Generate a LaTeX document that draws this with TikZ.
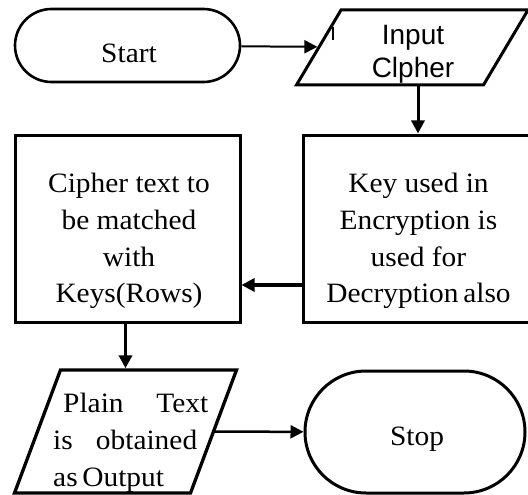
\documentclass[tikz,border=0pt]{standalone}
\usepackage{fontspec}
\setmainfont{Liberation Serif}[FakeStretch=1.05]
\newfontfamily\inputfont{Liberation Sans}
\usetikzlibrary{shapes.geometric,shapes.misc,arrows.meta}
\begin{document}
\begin{tikzpicture}[x=1pt,y=-1pt,
  term/.style={rounded rectangle, draw, line width=2.6pt, inner sep=0pt},
  proc/.style={rectangle, draw, line width=3pt, inner sep=0pt},
  io/.style={trapezium, trapezium stretches body, draw, line width=3pt, inner sep=0pt, text depth=0pt},
  lbl/.style={inner sep=0pt, font=\fontsize{28}{37}\selectfont},
  slbl/.style={inner sep=0pt, font=\inputfont\fontsize{28}{33}\selectfont},
  arr/.style={-{Triangle[length=13pt,width=13pt]}, line width=3pt},
]
\useasboundingbox (0,0) rectangle (528,495);
\clip (0,0) rectangle (528,495);
% shapes
\node[term, minimum width=225pt, minimum height=73pt] (start) at (127.5,45.5) {};
\node[io, trapezium left angle=59.3, trapezium right angle=120.7,
      text height=75pt, minimum width=231.5pt] (input) at (412.25,47.5) {};
\node[proc, minimum width=230pt, minimum height=187pt] (key) at (418,228.5) {};
\node[proc, minimum width=225pt, minimum height=187pt] (cipher) at (127.5,228.5) {};
\node[io, line width=3.3pt, trapezium left angle=69.5, trapezium right angle=110.5,
      text height=123pt, minimum width=222pt] (plain) at (125.5,431.5) {};
\node[term, line width=3pt, minimum width=220pt, minimum height=122pt] (stop) at (415,432) {};
% texts
\node[lbl, anchor=base] at (129,63) {Start};
\node[slbl, anchor=base] at (413,45) {\begin{tabular}[t]{@{}c@{}}Input\\ Clpher\end{tabular}};
\node[lbl, anchor=base] at (418.5,192) {\begin{tabular}[t]{@{}c@{}}Key used in\\ Encryption is\\ used for\\ Decryption\,also\end{tabular}};
\node[lbl, anchor=base] at (129,192) {\begin{tabular}[t]{@{}c@{}}Cipher text to\\ be matched\\ with\\ Keys(Rows)\end{tabular}};
\node[lbl, anchor=base west] at (53,412) {\begin{tabular}[t]{@{}l@{}}\hspace*{10pt}\makebox[145pt][s]{Plain Text}\\ \makebox[144pt][s]{is obtained}\\ as\,Output\end{tabular}};
\node[lbl, anchor=base] at (417,445) {Stop};
% small tick
\draw[line width=2.5pt] (333,27) -- (333,40);
% connectors
\draw[arr, line width=2pt] (start) -- (input);
\draw[arr] (input.south -| key.north) -- (key.north);
\draw[arr, line width=3.5pt] ([yshift=-56.5pt]key.west) -- ([yshift=-56.5pt]cipher.east);
\draw[arr, line width=3.5pt] (cipher.south -| plain.north) -- (plain.north);
\draw[arr, line width=2.5pt] (plain) -- (stop);
\end{tikzpicture}
\end{document}
